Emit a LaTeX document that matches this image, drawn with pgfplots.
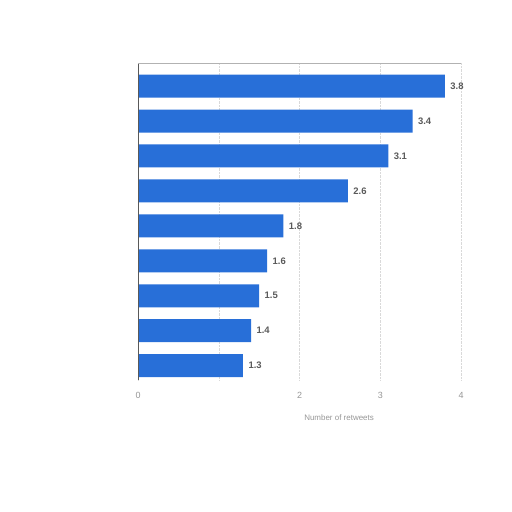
\documentclass[border=0pt]{standalone}
\usepackage{pgfplots}
\pgfplotsset{compat=1.18}
\usepackage{fontspec}
\setmainfont{Liberation Sans}
\definecolor{barblue}{RGB}{40,111,216}
\definecolor{lbl}{RGB}{90,90,90}
\definecolor{tck}{RGB}{150,150,150}
\begin{document}
\begin{tikzpicture}[x=1bp,y=1bp]
\path[use as bounding box] (0,0) rectangle (512,512);
\begin{axis}[
    at={(138bp,132bp)}, anchor=south west,
    scale only axis, width=323bp, height=317bp,
    xmin=0, xmax=4, ymin=-0.41, ymax=8.66,
    xbar, bar width=23bp,
    axis line style={draw=none},
    xtick={0,1,2,3,4}, xticklabels={0,,2,3,4},
    ytick=\empty,
    major tick length=0pt,
    xmajorgrids, grid style={densely dotted, gray!30},
    tick label style={font=\fontsize{9}{10}\selectfont, text=tck},
    xticklabel style={yshift=-9bp},
    /pgf/number format/assume math mode=true,
    nodes near coords,
    nodes near coords style={font=\fontsize{9.5}{10}\selectfont\bfseries, text=lbl, xshift=2bp},
    clip=false,
]
\addplot[fill=barblue, draw=none] coordinates {
  (1.3,0) (1.4,1) (1.5,2) (1.6,3) (1.8,4) (2.6,5) (3.1,6) (3.4,7) (3.8,8)
};
\draw[gray!70!black, line width=0.8bp] (rel axis cs:0,0) -- (rel axis cs:0,1);
\draw[gray!60, line width=0.8bp] (rel axis cs:0,1) -- (rel axis cs:1,1);
\node[font=\fontsize{8}{9}\selectfont, text=tck] at (axis cs:2.49,-1.5) {Number of retweets};
\end{axis}
\end{tikzpicture}
\end{document}
